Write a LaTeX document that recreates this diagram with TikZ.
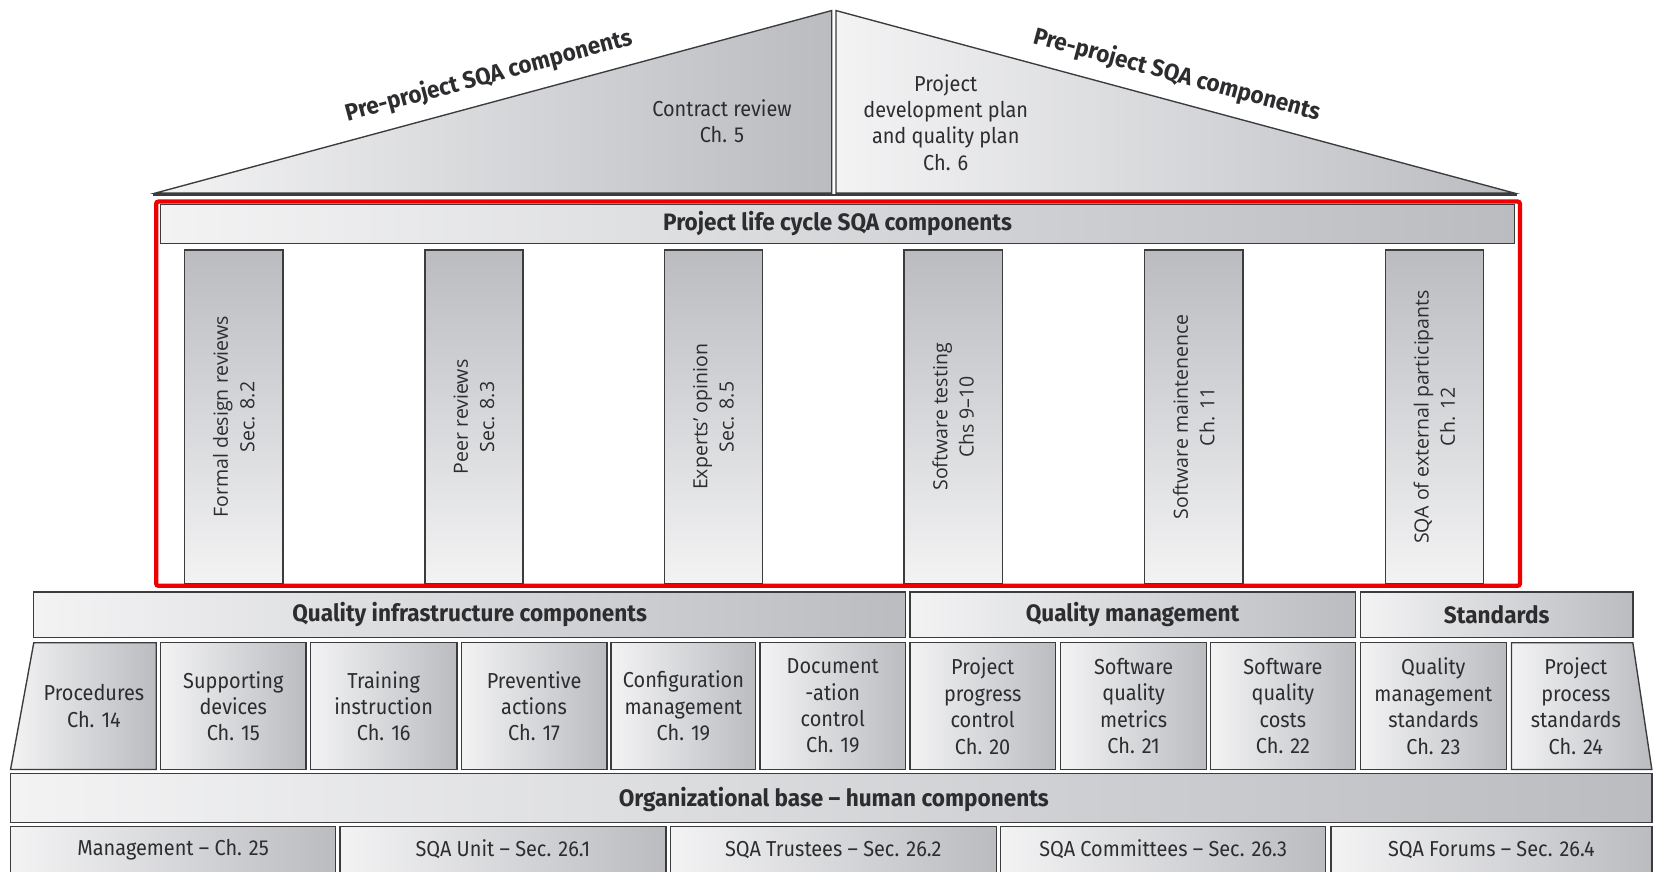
\documentclass[tikz,border=0pt]{standalone}
\usepackage{fontspec}
\setmainfont[FakeStretch=0.92]{Fira Sans}
\newfontfamily\headfont[FakeStretch=0.95,Ligatures=TeX]{Fira Sans}
\newfontfamily\pillarfont[Ligatures=TeX]{Open Sans}
\definecolor{lightg}{RGB}{243,243,244}
\definecolor{darkg}{RGB}{186,188,192}
\definecolor{lineg}{RGB}{60,60,62}
\definecolor{textg}{RGB}{45,45,48}
\definecolor{redline}{RGB}{238,0,0}
\begin{document}
\begin{tikzpicture}[x=1pt,y=-1pt,
  edge/.style={draw=lineg, line width=1.3pt},
  hshade/.style={edge, left color=lightg, right color=darkg},
  hbox/.style={hshade, minimum height=43pt, inner sep=0pt, text=textg, font=\headfont\fontsize{22.5}{25}\selectfont\bfseries},
  cbox/.style={hshade, minimum height=120pt, inner sep=0pt, text=textg, align=center, font=\fontsize{20.5}{25}\selectfont},
  pillarbox/.style={edge, top color=darkg, bottom color=lightg, minimum width=93pt, minimum height=316pt, inner sep=0pt},
  pillartext/.style={rotate=90, align=center, text=textg, font=\pillarfont\fontsize{18.5}{25}\selectfont},
  rooftext/.style={align=center, text=textg, font=\fontsize{20.5}{25}\selectfont},
  slanttext/.style={text=textg, font=\headfont\fontsize{22.5}{25}\selectfont\bfseries},
  plain/.style={text=textg, font=\fontsize{20.5}{25}\selectfont}]
\useasboundingbox (0,0) rectangle (1568,826);

% roof
\path[edge, left color=lightg, right color=darkg] (147,183) -- (788,10) -- (788,183) -- cycle;
\path[edge, left color=lightg, right color=darkg] (792,10) -- (1435,183) -- (792,183) -- cycle;
\draw[lineg, line width=2pt] (145,184.5) -- (1437,184.5);
\node[slanttext, rotate=15.06] (preL) at (463,72) {Pre-project SQA components};
\node[slanttext, rotate=-15.06] (preR) at (1115,71) {Pre-project SQA components};
\node[rooftext] (contract) at (684,115) {Contract review\\Ch. 5};
\node[rooftext] (devplan) at (896,116) {Project\\development plan\\and quality plan\\Ch. 6};

% project life cycle
\node[hshade, minimum width=1283pt, minimum height=37pt, inner sep=0pt, text=textg, font=\headfont\fontsize{22.5}{25}\selectfont\bfseries] (plc) at (793.5,212) {Project life cycle SQA components};
\foreach \x/\n/\t in {221.5/p1/{Formal design reviews\\Sec. 8.2},
                    449/p2/{Peer reviews\\Sec. 8.3},
                    676/p3/{Experts' opinion\\Sec. 8.5},
                    903/p4/{Software testing\\Chs 9–10},
                    1131/p5/{Software maintenence\\Ch. 11},
                    1359/p6/{SQA of external participants\\Ch. 12}} {
  \node[pillarbox] (\n) at (\x,395) {};
  \node[pillartext] (\n t) at (\x,395) {\t};
}
\draw[redline, line width=4pt, rounded corners=2pt] (148,191) rectangle (1440,555);

% quality headers
\node[hbox, minimum width=826pt] (qi) at (445,582.5) {Quality infrastructure components};
\node[hbox, minimum width=422pt] (qm) at (1073,582.5) {Quality management};
\node[hbox, minimum width=258pt] (std) at (1418,582.5) {Standards};

% component row
\path[hshade] (32,609) -- (148,609) -- (148,729) -- (10,729) -- cycle;
\node[rooftext] (c1) at (89,669) {Procedures\\Ch. 14};
\node[cbox, minimum width=138pt] (c2) at (221,669) {Supporting\\devices\\Ch. 15};
\node[cbox, minimum width=139pt] (c3) at (363.5,669) {Training\\instruction\\Ch. 16};
\node[cbox, minimum width=138pt] (c4) at (506,669) {Preventive\\actions\\Ch. 17};
\node[cbox, minimum width=137pt] (c5) at (647.5,669) {Configuration\\management\\Ch. 19};
\node[cbox, minimum width=138pt] (c6) at (789,669) {Document\\-ation\\control\\Ch. 19};
\node[cbox, minimum width=138pt] (c7) at (931,669) {Project\\progress\\control\\Ch. 20};
\node[cbox, minimum width=138pt] (c8) at (1074,669) {Software\\quality\\metrics\\Ch. 21};
\node[cbox, minimum width=137pt] (c9) at (1215.5,669) {Software\\quality\\costs\\Ch. 22};
\node[cbox, minimum width=138pt] (c10) at (1358,669) {Quality\\management\\standards\\Ch. 23};
\path[hshade] (1432,609) -- (1547,609) -- (1565,729) -- (1432,729) -- cycle;
\node[rooftext] (c11) at (1493,669) {Project\\process\\standards\\Ch. 24};

% organizational base
\path[hshade] (10,733) rectangle (1565,779);
\node[text=textg, font=\headfont\fontsize{22.5}{25}\selectfont\bfseries] (org) at (790,757) {Organizational base – human components};

% bottom row
\foreach \a/\b/\n/\t in {10/318/b1/{Management – Ch. 25},
                         322/631/b2/{SQA Unit – Sec. 26.1},
                         635/944/b3/{SQA Trustees – Sec. 26.2},
                         948/1256/b4/{SQA Committees – Sec. 26.3},
                         1261/1565/b5/{SQA Forums – Sec. 26.4}} {
  \path[hshade] (\a,783) rectangle (\b,840);
  \node[plain] (\n) at ({(\a+\b)/2},805) {\t};
}
\end{tikzpicture}
\end{document}
